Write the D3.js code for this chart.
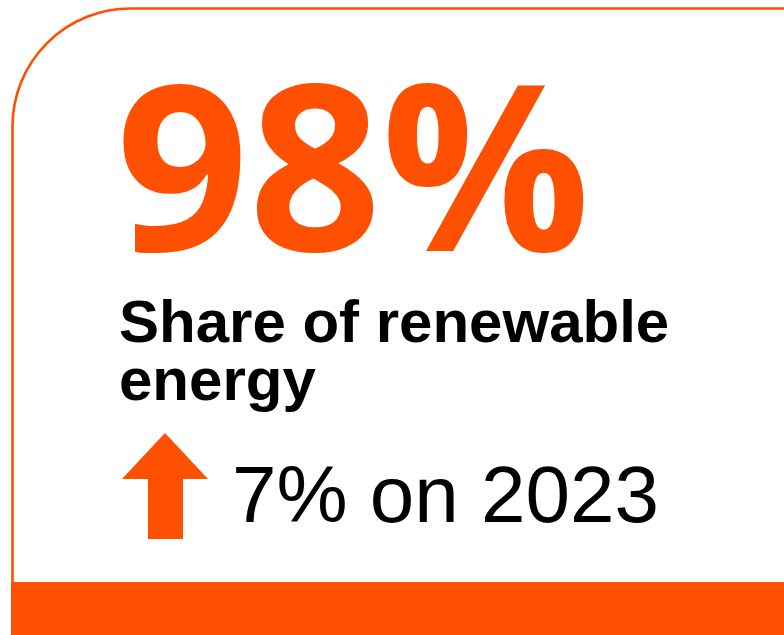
<!doctype html>
<html>
<head>
<meta charset="utf-8">
<style>
  html, body { margin: 0; padding: 0; background: #fff; }
  svg { display: block; }
</style>
<script src="https://d3js.org/d3.v7.min.js"></script>
</head>
<body>
<svg width="784" height="635" id="card"></svg>
<script>
    // KPI values
    var headlineValue = [98];
    var labelLines = ["Share of renewable", "energy"];
    var changeValue = [7];
    var baseYear = [2023];

    var orange = "#fe5000";

    var svg = d3.select("#card"),
        width = +svg.attr("width"),
        height = +svg.attr("height");

    // card outline: left edge, rounded top-left corner, top edge
    var edgeX = 12.5, edgeY = 8.5, radius = 118, footTop = 582;
    var outline = d3.path();
    outline.moveTo(edgeX, footTop);
    outline.lineTo(edgeX, edgeY + radius);
    outline.arcTo(edgeX, edgeY, edgeX + radius, edgeY, radius);
    outline.lineTo(width, edgeY);

    svg.append("path")
       .attr("d", outline.toString())
       .attr("fill", "none")
       .attr("stroke", orange)
       .attr("stroke-width", 2.6);

    // orange footer band
    svg.append("rect")
       .attr("x", 11)
       .attr("y", footTop)
       .attr("width", width - 11)
       .attr("height", height - footTop)
       .attr("fill", orange);

    // big number
    svg.selectAll(".headline")
       .data(headlineValue)
       .enter().append("text")
       .attr("class", "headline")
       .attr("x", 116)
       .attr("y", 251)
       .attr("font-family", "'Open Sans', Lato, sans-serif")
       .attr("font-weight", "bold")
       .attr("font-size", "232px")
       .attr("fill", orange)
       .text(function(d) { return d + "%"; });

    // label
    svg.selectAll(".label")
       .data(labelLines)
       .enter().append("text")
       .attr("class", "label")
       .attr("x", 119)
       .attr("y", function(d, i) { return 342 + i * 58; })
       .attr("font-family", "'Liberation Sans', Arial, sans-serif")
       .attr("font-weight", "bold")
       .attr("font-size", "60px")
       .attr("fill", "#000")
       .text(function(d) { return d; });

    // up arrow
    var arrowUp = d3.line()([
        [165, 433], [208, 479], [183, 479], [183, 539],
        [148, 539], [148, 479], [122, 479]
    ]) + "Z";
    svg.append("path")
       .attr("d", arrowUp)
       .attr("fill", orange);

    // change text
    svg.selectAll(".change")
       .data(changeValue)
       .enter().append("text")
       .attr("class", "change")
       .attr("x", 232)
       .attr("y", 522)
       .attr("font-family", "'Liberation Sans', Arial, sans-serif")
       .attr("font-size", "80px")
       .attr("fill", "#000")
       .text(function(d) { return d + "% on " + baseYear[0]; });
</script>
</body>
</html>
